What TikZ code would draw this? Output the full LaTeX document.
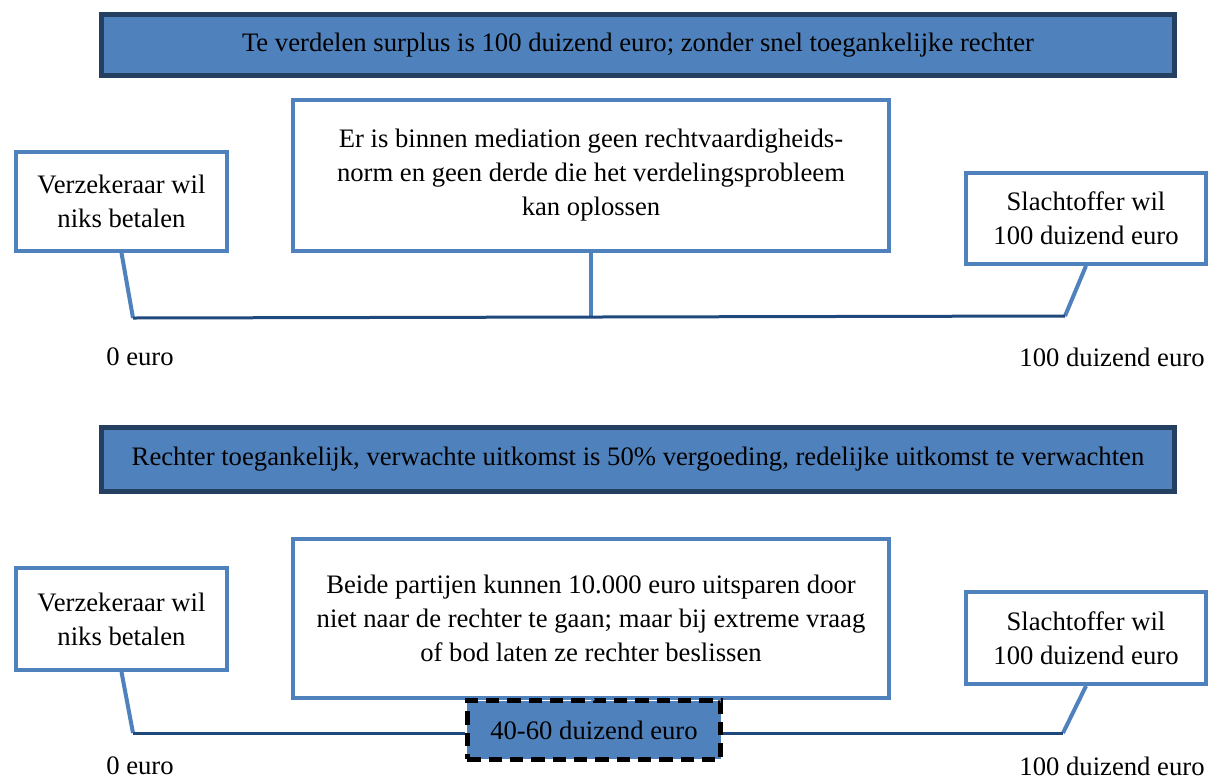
\documentclass[tikz,border=0pt]{standalone}
\usepackage{xcolor}
\usepackage{fontspec}
\setmainfont{Liberation Serif}
\usepackage{tikz}
\definecolor{blue1}{HTML}{4F81BD}
\definecolor{blue2}{HTML}{1F497D}
\definecolor{navy1}{HTML}{243F60}

\begin{document}
\begin{tikzpicture}[x=0.75pt, y=-0.75pt,
  every node/.style={font=\fontsize{20}{25.5}\selectfont, align=center, inner sep=0pt},
  banner/.style={draw=navy1, line width=3.75pt, fill=blue1, minimum width=805pt},
  partij/.style={draw=blue1, line width=3pt, fill=white},
  lijn/.style={blue1, line width=3pt},
  schaal/.style={blue2, line width=2.25pt}]

  \useasboundingbox (0,0) rectangle (1215,783);

  % zonder rechter
  \node[banner, minimum height=46pt] (ban1) at (638,45) {Te verdelen surplus is 100 duizend euro; zonder snel toegankelijke rechter};
  \node[partij, minimum width=158pt, minimum height=74pt] (vz1) at (121.5,201.5) {Verzekeraar wil\\niks betalen};
  \node[partij, minimum width=447pt, minimum height=113pt] (mid1) at (591,175.5) {Er is binnen mediation geen rechtvaardigheids-\\norm en geen derde die het verdelingsprobleem\\kan oplossen};
  \node[partij, minimum width=180pt, minimum height=68pt] (sl1) at (1086,218.5) {Slachtoffer wil\\100 duizend euro};

  \coordinate (l1) at (133,318);
  \coordinate (r1) at (1065,316);
  \draw[lijn] (vz1.south) -- (l1);
  \draw[lijn] (sl1.south) -- (r1);
  \draw[lijn] (mid1.south) -- (mid1.south |- l1);
  \draw[schaal] (l1) -- (r1);

  \node (nul1) at (140,357) {0 euro};
  \node (hon1) at (1112,357) {100 duizend euro};

  % met rechter
  \node[banner, minimum height=48pt] (ban2) at (638,459.5) {Rechter toegankelijk, verwachte uitkomst is 50\% vergoeding, redelijke uitkomst te verwachten};
  \node[partij, minimum width=158pt, minimum height=76.5pt] (vz2) at (121.5,619) {Verzekeraar wil\\niks betalen};
  \node[partij, minimum width=447pt, minimum height=119pt] (mid2) at (591,618.5) {Beide partijen kunnen 10.000 euro uitsparen door\\niet naar de rechter te gaan; maar bij extreme vraag\\of bod laten ze rechter beslissen};
  \node[partij, minimum width=180pt, minimum height=69pt] (sl2) at (1086,638) {Slachtoffer wil\\100 duizend euro};
  \node[draw=black, line width=3.75pt, dash pattern=on 10pt off 6pt, fill=blue1,
    minimum width=190pt, minimum height=44pt] (res) at (594,730) {40-60 duizend euro};

  \coordinate (l2) at (133,733);
  \coordinate (r2) at (1063,733);
  \draw[lijn] (vz2.south) -- (l2);
  \draw[lijn] (sl2.south) -- (r2);
  \draw[lijn] (mid2.south) -- (res.north);
  \draw[schaal] (l2) -- (res.west |- l2);
  \draw[schaal] (res.east |- r2) -- (r2);

  \node (nul2) at (140,766) {0 euro};
  \node (hon2) at (1112,766) {100 duizend euro};

\end{tikzpicture}
\end{document}
